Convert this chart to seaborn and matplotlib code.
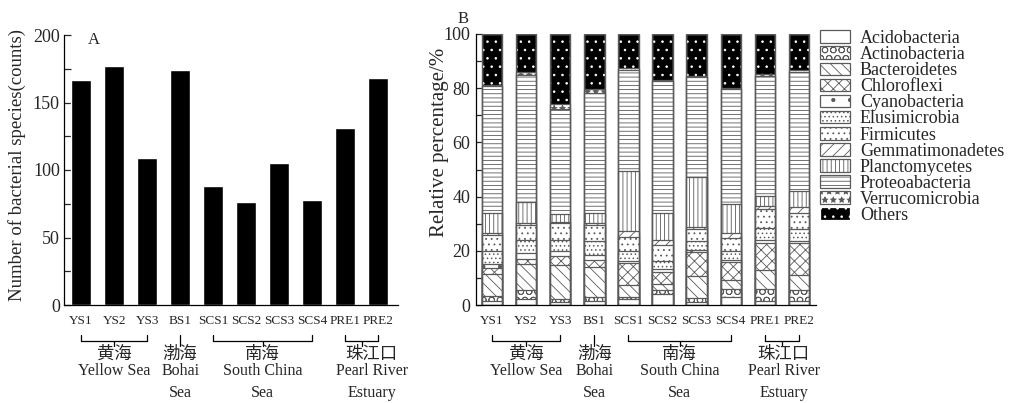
import numpy as np
import matplotlib
matplotlib.use("Agg")
import matplotlib.pyplot as plt
import seaborn as sns
from matplotlib.patches import Patch
from matplotlib.ticker import MultipleLocator

# ---------------- data ----------------
samples = ["YS1", "YS2", "YS3", "BS1", "SCS1", "SCS2", "SCS3", "SCS4", "PRE1", "PRE2"]
species_counts = [167, 177, 109, 174, 88, 76, 105, 78, 131, 168]

phyla = ["Acidobacteria", "Actinobacteria", "Bacteroidetes", "Chloroflexi",
         "Cyanobacteria", "Elusimicrobia", "Firmicutes", "Gemmatimonadetes",
         "Planctomycetes", "Proteoabacteria", "Verrucomicrobia", "Others"]

acidobacteria    = [1.6, 2.2, 1.0, 1.6, 2.2, 4.1, 1.0, 2.9, 1.6, 1.6]
actinobacteria   = [1.9, 3.2, 1.2, 1.5, 0.9, 1.3, 1.6, 3.1, 4.4, 3.8]
bacteroidetes    = [8.1, 9.7, 12.5, 11.0, 4.4, 2.5, 8.0, 3.1, 6.9, 5.6]
chloroflexi      = [1.9, 1.8, 3.2, 2.5, 7.9, 4.3, 8.8, 6.9, 10.0, 11.9]
cyanobacteria    = [1.6, 2.2, 1.9, 1.9, 1.0, 0.9, 1.0, 0.6, 1.2, 0.9]
elusimicrobia    = [4.9, 5.0, 4.3, 5.0, 3.4, 3.3, 3.1, 3.2, 4.4, 4.3]
firmicutes       = [6.0, 5.6, 6.0, 6.2, 5.2, 5.8, 4.4, 5.0, 6.9, 6.0]
gemmatimonadetes = [0.6, 0.7, 0.6, 0.7, 2.2, 1.9, 1.0, 1.8, 1.2, 1.9]
planctomycetes   = [7.3, 7.7, 3.0, 3.7, 22.1, 9.9, 18.5, 10.8, 3.8, 6.2]
proteobacteria   = [46.9, 46.9, 38.7, 44.1, 37.6, 48.5, 36.7, 42.2, 44.2, 43.9]
verrucomicrobia  = [0.5, 0.8, 1.9, 1.4, 0.4, 0.5, 0.3, 0.3, 0.6, 0.8]
others           = [18.7, 14.2, 25.7, 20.4, 12.7, 17.0, 15.6, 20.1, 14.8, 13.1]

composition = [acidobacteria, actinobacteria, bacteroidetes, chloroflexi,
               cyanobacteria, elusimicrobia, firmicutes, gemmatimonadetes,
               planctomycetes, proteobacteria, verrucomicrobia, others]

groups = [("黄海", ["Yellow Sea"], 0, 2),
          ("渤海", ["Bohai", "Sea"], 3, 3),
          ("南海", ["South China", "Sea"], 4, 7),
          ("珠江口", ["Pearl River", "Estuary"], 8, 9)]

# ---------------- style ----------------
EDGE = "#5a5a5a"
styles = [  # facecolor, edgecolor(hatch colour), hatch
    ("white", EDGE, ""),
    ("white", EDGE, "OO"),
    ("white", EDGE, "\\\\\\"),
    ("white", EDGE, "xxx"),
    ("white", EDGE, "."),
    ("white", EDGE, "...."),
    ("white", EDGE, "..."),
    ("white", EDGE, "///"),
    ("white", EDGE, "||||"),
    ("white", EDGE, "----"),
    ("white", EDGE, "**"),
    ("black", "white", ".."),
]

sns.set_theme(style="ticks")
plt.rcParams["font.family"] = ["Liberation Serif", "Noto Sans CJK SC"]
plt.rcParams["hatch.linewidth"] = 0.6
plt.rcParams["axes.linewidth"] = 0.9
plt.rcParams["axes.edgecolor"] = "black"

W, H = 1013, 403
fig = plt.figure(figsize=(W / 100, H / 100), dpi=100)


def fx(px):
    return px / W


def fy(py):
    return 1 - py / H


axA = fig.add_axes([fx(64), fy(305), (398 - 64) / W, (305 - 35) / H])
axB = fig.add_axes([fx(476), fy(305), (816 - 476) / W, (305 - 34) / H])

# ---------------- panel A ----------------
sns.barplot(x=samples, y=species_counts, color="black", saturation=1,
            width=0.6, errorbar=None, ax=axA)
axA.set_xlim(-0.52, 9.6)
axA.set_ylim(0, 200)
axA.yaxis.set_major_locator(MultipleLocator(50))
axA.yaxis.set_minor_locator(MultipleLocator(25))
axA.tick_params(axis="y", which="both", direction="in", length=5, width=0.9,
                labelsize=13, pad=3)
axA.tick_params(axis="x", length=0, labelsize=9.5, pad=7)
axA.set_xlabel("")
axA.set_ylabel("Number of bacterial species(counts)", fontsize=13.5)
axA.yaxis.set_label_coords(-0.114, 0.52)
sns.despine(ax=axA)
axA.text(0.09, 1.01, "A", transform=axA.transAxes, fontsize=12,
         ha="center", va="top")

# ---------------- panel B (stacked) ----------------
cum = np.cumsum(np.array(composition), axis=0)
for k in range(len(phyla) - 1, -1, -1):
    face, edge, hatch = styles[k]
    n0 = len(axB.patches)
    sns.barplot(x=samples, y=cum[k], color=face, saturation=1, width=0.6,
                errorbar=None, ax=axB)
    for p in axB.patches[n0:]:
        p.set_facecolor(face)
        p.set_edgecolor(edge)
        p.set_hatch(hatch)
        p.set_linewidth(0.9)
# outline pass
n0 = len(axB.patches)
sns.barplot(x=samples, y=cum[-1], color=EDGE, fill=False, width=0.6,
            errorbar=None, ax=axB)
for p in axB.patches[n0:]:
    p.set_facecolor("none")
    p.set_edgecolor(EDGE)
    p.set_linewidth(1.0)

axB.set_xlim(-0.47, 9.5)
axB.set_ylim(0, 100)
axB.yaxis.set_major_locator(MultipleLocator(20))
axB.yaxis.set_minor_locator(MultipleLocator(10))
axB.tick_params(axis="y", which="both", direction="in", length=5, width=0.9,
                labelsize=13, pad=4)
axB.tick_params(axis="x", length=0, labelsize=9.5, pad=7)
axB.set_xlabel("")
axB.set_ylabel("Relative percentage/%", fontsize=15)
axB.yaxis.set_label_coords(-0.08, 0.6)
sns.despine(ax=axB)
fig.text(fx(463), fy(19), "B", fontsize=12, ha="center", va="center")

# ---------------- group brackets & labels ----------------
def px_to_axes(py):
    return (305 - py) / 271.0


for ax, pre_shift in ((axA, 0.3), (axB, 0.05)):
    tr = ax.get_xaxis_transform()
    for cn, en_lines, i0, i1 in groups:
        yl, yt, ys = px_to_axes(341), px_to_axes(335), px_to_axes(346)
        mid = (i0 + i1) / 2
        if i0 == i1:
            ax.plot([i0, i0], [yt, ys], color="black", lw=0.9,
                    transform=tr, clip_on=False)
        else:
            ax.plot([i0, i0, i1, i1], [yt, yl, yl, yt], color="black", lw=0.9,
                    transform=tr, clip_on=False)
            ax.plot([mid, mid], [yl, ys], color="black", lw=0.9,
                    transform=tr, clip_on=False)
        shift = pre_shift if cn == "珠江口" else 0.0
        ax.text(mid + shift, px_to_axes(355), cn, transform=tr, fontsize=12.5,
                ha="center", va="center", clip_on=False)
        for j, line in enumerate(en_lines):
            ax.text(mid + shift, px_to_axes(375 + 22 * j), line, transform=tr,
                    fontsize=11.5, ha="center", va="baseline", clip_on=False)

# ---------------- legend ----------------
handles = []
for f, e, h in styles:
    hd = Patch(facecolor=f, edgecolor=(EDGE if f == "white" else "white"),
               hatch=h, linewidth=0.9)
    handles.append(hd)
fig.legend(handles, phyla, loc="upper left", bbox_to_anchor=(fx(820), fy(30)),
           frameon=False, fontsize=13, handlelength=1.66, handleheight=0.7,
           handletextpad=0.55, labelspacing=-0.05, borderpad=0,
           borderaxespad=0)

fig.savefig("out.png", dpi=100)
